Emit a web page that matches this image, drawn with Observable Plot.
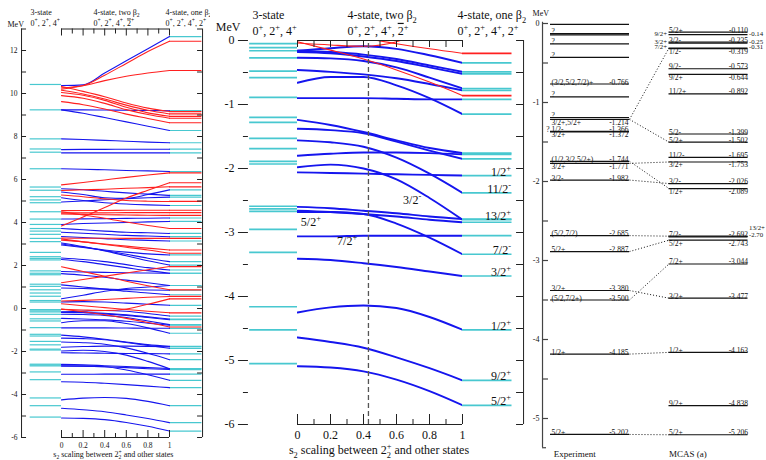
<!DOCTYPE html>
<html>
<head>
<meta charset="utf-8">
<title>Coupled-channel spectra versus s2 scaling</title>
<script src="https://cdn.jsdelivr.net/npm/d3@7"></script>
<script src="https://cdn.jsdelivr.net/npm/@observablehq/plot@0.6"></script>
<style>
  html, body { margin: 0; padding: 0; background: #fff; }
  #fig { position: relative; width: 766px; height: 460px; overflow: hidden; background: #fff; }
  #fig svg { position: absolute; top: 0; max-width: none; }
</style>
</head>
<body>
<div id="fig"></div>
<script>
// ---------- state energies (MeV) sampled at s2 = 0, 0.2, ..., 1 ----------
const sGrid = [0, 0.2, 0.4, 0.6, 0.8, 1];

const blueCurves = [
  // resonant region
  [10.37, 10.40, 10.95, 11.52, 12.08, 12.65],
  [9.24, 9.24, 9.23, 9.22, 9.21, 9.20],
  [9.24, 9.08, 8.88, 8.68, 8.48, 8.28],
  [7.89, 7.86, 7.82, 7.78, 7.74, 7.71],
  [7.39, 7.40, 7.40, 7.41, 7.41, 7.41],
  [7.24, 7.24, 7.24, 7.24, 7.24, 7.24],
  [6.50, 6.48, 6.45, 6.42, 6.40, 6.37],
  [5.57, 5.52, 5.45, 5.38, 5.32, 5.26],
  [5.42, 5.30, 5.15, 5.12, 5.30, 5.52],
  [5.15, 5.02, 4.92, 4.86, 4.82, 4.79],
  [4.95, 5.00, 5.06, 5.11, 5.15, 5.18],
  [4.16, 4.17, 4.18, 4.19, 4.20, 4.21],
  [3.91, 3.95, 3.98, 4.00, 4.03, 4.05],
  [3.72, 3.66, 3.60, 3.55, 3.52, 3.49],
  [3.55, 3.50, 3.45, 3.40, 3.37, 3.34],
  [3.35, 3.30, 3.25, 3.20, 3.17, 3.14],
  [3.00, 2.86, 2.70, 2.52, 2.34, 2.18],
  [3.05, 2.88, 2.68, 2.45, 2.22, 2.02],
  [2.95, 2.84, 2.72, 2.62, 2.54, 2.49],
  [2.35, 2.28, 2.18, 2.04, 1.90, 1.79],
  [2.28, 2.18, 2.04, 1.90, 1.76, 1.64],
  [1.72, 1.70, 1.68, 1.66, 1.65, 1.64],
  [1.62, 1.55, 1.45, 1.32, 1.20, 1.07],
  [1.10, 1.00, 0.90, 0.80, 0.72, 0.64],
  [0.95, 0.93, 0.90, 0.88, 0.86, 0.85],
  [0.45, 0.62, 0.80, 0.93, 1.00, 1.07],
  [0.30, 0.32, 0.30, 0.25, 0.20, 0.15],
  // bound region
  [-0.16, -0.12, -0.09, -0.13, -0.23, -0.35],
  [-0.16, -0.18, -0.22, -0.29, -0.39, -0.49],
  [-0.18, -0.20, -0.25, -0.32, -0.42, -0.52],
  [-0.27, -0.28, -0.32, -0.42, -0.58, -0.75],
  [-0.46, -0.49, -0.53, -0.59, -0.68, -0.78],
  [-0.66, -0.57, -0.57, -0.70, -0.90, -1.15],
  [-0.90, -0.90, -0.90, -0.91, -0.92, -0.92],
  [-1.24, -1.32, -1.43, -1.56, -1.68, -1.76],
  [-1.38, -1.40, -1.45, -1.58, -1.72, -1.85],
  [-1.56, -1.59, -1.66, -1.83, -2.08, -2.38],
  [-1.80, -1.77, -1.75, -1.75, -1.76, -1.78],
  [-1.98, -1.94, -2.00, -2.17, -2.46, -2.80],
  [-2.06, -2.07, -2.08, -2.09, -2.10, -2.11],
  [-2.60, -2.62, -2.66, -2.70, -2.75, -2.79],
  [-2.66, -2.68, -2.71, -2.75, -2.80, -2.84],
  [-2.68, -2.68, -2.71, -2.86, -3.08, -3.34],
  [-3.06, -3.06, -3.05, -3.05, -3.05, -3.05],
  [-3.41, -3.43, -3.48, -3.54, -3.61, -3.68],
  [-4.25, -4.17, -4.14, -4.18, -4.32, -4.52],
  [-4.64, -4.71, -4.80, -4.95, -5.12, -5.31],
  [-5.09, -5.11, -5.17, -5.30, -5.48, -5.70]
];

const redCurves = [
  [10.26, 10.37, 10.85, 11.40, 11.95, 12.43],
  [10.20, 10.36, 10.60, 10.80, 10.95, 11.07],
  [10.33, 10.10, 9.85, 9.56, 9.32, 9.16],
  [10.15, 9.98, 9.74, 9.46, 9.22, 9.05],
  [10.05, 9.92, 9.68, 9.36, 9.10, 8.94],
  [9.90, 9.78, 9.54, 9.25, 9.02, 8.85],
  [9.62, 9.48, 9.28, 9.04, 8.84, 8.64],
  [5.75, 5.86, 5.98, 6.10, 6.21, 6.31],
  [3.84, 4.26, 4.70, 5.14, 5.50, 5.85],
  [5.49, 5.52, 5.55, 5.59, 5.62, 5.66],
  [5.28, 5.20, 5.10, 5.02, 4.99, 4.98],
  [4.45, 4.45, 4.45, 4.46, 4.46, 4.46],
  [4.40, 4.38, 4.36, 4.35, 4.34, 4.33],
  [4.50, 4.35, 4.20, 4.02, 3.86, 3.72],
  [4.55, 4.56, 4.56, 4.57, 4.57, 4.57],
  [3.24, 3.10, 2.98, 2.85, 2.72, 2.57],
  [3.18, 3.10, 3.00, 2.90, 2.81, 2.72],
  [3.28, 3.27, 3.27, 3.26, 3.26, 3.26],
  [1.94, 1.72, 1.50, 1.27, 1.06, 0.87],
  [1.20, 1.35, 1.50, 1.65, 1.80, 1.95],
  [0.35, 0.38, 0.42, 0.47, 0.52, 0.56],
  [0.22, 0.13, 0.04, -0.05, -0.13, -0.20],
  [-0.04, -0.07, -0.09, -0.02, 0.20, 0.45],
  [-0.02, -0.15, -0.29, -0.46, -0.65, -0.86]
];

// 3-state (0+, 2+, 4+) spectrum
const threeStateLevels = [
  10.42, 9.24, 7.89, 7.42, 7.27, 6.50, 5.65, 5.50, 5.20, 5.05, 4.92, 4.50, 4.16,
  3.91, 3.72, 3.60, 3.45, 3.26, 3.11, 2.61, 2.41, 2.33, 2.26, 1.75, 1.64, 1.57,
  1.13, 1.03, 0.87, 0.72, 0.57, 0.37, 0.30,
  -0.05, -0.11, -0.16, -0.27, -0.48, -0.58, -0.89, -1.20, -1.28, -1.53, -1.69,
  -1.89, -1.93, -2.59, -2.63, -2.67, -2.95, -3.31, -4.16, -4.52, -5.05
];

const sDashed = 0.43;

// spin-parity labels of the one-beta2 bound states
const spinRightE = [-2.11, -2.38, -2.80, -3.34, -3.68, -4.52, -5.31, -5.70];
const spinRightText = ["1/2^+", "11/2^-", "13/2^+", "7/2^-", "3/2^+", "1/2^+", "9/2^+", "5/2^+"];
const spinInsideText = ["3/2^-", "5/2^+", "7/2^+"];
const spinInsideS = [0.64, 0.02, 0.24];
const spinInsideE = [-2.50, -2.84, -3.13];

// ---------- experiment vs MCAS (a) ----------
const expEnergy = [-0.01, -0.127, -0.143, -0.257, -0.43, -0.766, -0.93, -1.19, -1.214, -1.366, -1.372,
  -1.744, -1.771, -1.982, -2.685, -2.887, -3.380, -3.500, -4.185, -5.202];
const expSpin = ["", "?", "", "?", "?", "(3/2,5/2,7/2)+", "?", "?", "3/2+,5/2+", "1/2-", "3/2+",
  "(1/2,3/2,5/2+)", "3/2+", "3/2-", "(5/2,7/2)", "5/2+", "3/2+", "(5/2,7/2+)", "1/2+", "5/2+"];
const expLabelBelow = [-1.214, -1.372, -1.771];
const expQueryPrefix = [-1.366];

const mcasEnergy = [-0.110, -0.235, -0.319, -0.573, -0.644, -0.892, -1.399, -1.502, -1.695, -1.753,
  -2.026, -2.089, -2.692, -2.743, -3.044, -3.477, -4.163, -4.838, -5.206];
const mcasSpin = ["5/2+", "3/2-", "1/2-", "9/2-", "9/2+", "11/2+", "5/2-", "5/2+", "11/2-", "3/2+",
  "3/2-", "1/2+", "7/2-", "5/2+", "7/2+", "3/2+", "1/2+", "9/2+", "5/2+"];
const mcasLabelBelow = [-0.319, -0.644, -1.753, -2.089, -2.743];
const mcasSideEnergy = [-0.14, -0.25, -0.31];
const mcasSideSpin = ["9/2+", "3/2+", "7/2+"];
const mcasStackEnergy = [-2.70];
const mcasStackSpin = ["13/2+"];

const expToMcas = [
  [-1.214, -0.31], [-1.214, -1.502], [-1.771, -1.753], [-1.744, -2.089], [-1.982, -2.026],
  [-2.685, -2.692], [-2.887, -2.743], [-3.380, -3.477], [-3.500, -3.044], [-4.185, -4.163],
  [-5.202, -5.206]
];

// ---------- styling ----------
const BLUE = "#1515ee", RED = "#ff2020", CYAN = "#48c8d0", INK = "#222";
const SERIF = "Liberation Serif, Times New Roman, serif";
const LV_L = -0.29, LV_R = 1.30;       // extent of the side level bars, in s2 units
const sTicks = d3.range(0, 11).map(i => i / 10);
const isMajorS = s => Math.round(s * 10) % 2 === 0;
const sLabel = s => String(+s.toFixed(1));

function curveRows(curves, tag) {
  return curves.flatMap((vals, k) => vals.map((E, i) => ({id: tag + k, s: sGrid[i], E})));
}
const blueRows = curveRows(blueCurves, "b");
const redRows = curveRows(redCurves, "r");
const blueEnds = blueCurves.map(v => v[v.length - 1]);
const redEnds = redCurves.map(v => v[v.length - 1]);

// turn ^x, _x and ~x markup into super/subscript and overlined tspans
function enrich(svg) {
  d3.select(svg).selectAll("text").each(function () {
    const el = this;
    if (el.querySelector("tspan")) return;
    const src = el.textContent;
    if (!/[\^_~]/.test(src)) return;
    el.textContent = "";
    const re = /([\^_])(\{[^}]*\}|[^\s])|~([^\s])|([^\^_~]+)/g;
    let shift = 0, prev = null, m;
    while ((m = re.exec(src))) {
      const ts = document.createElementNS("http://www.w3.org/2000/svg", "tspan");
      let target = 0, scale = 1;
      if (m[1]) {
        ts.textContent = m[2].replace(/^\{|\}$/g, "");
        scale = 0.7;
        target = m[1] === "^" ? -0.42 : 0.28;
        ts.setAttribute("font-size", "70%");
        if (prev === "_" && m[1] === "^") ts.setAttribute("dx", "-0.5em");
        prev = m[1];
      } else if (m[3]) {
        ts.textContent = m[3];
        ts.setAttribute("style", "text-decoration: overline");
        prev = null;
      } else {
        ts.textContent = m[4];
        prev = null;
      }
      const dy = (target - shift) / scale;
      if (Math.abs(dy) > 1e-6) ts.setAttribute("dy", dy.toFixed(3) + "em");
      shift = target;
      el.appendChild(ts);
    }
  });
  return svg;
}

const txt = (data, opts) => Plot.text(data, {fontFamily: SERIF, fill: "#111", ...opts});

// ---------- full spectrum panel ----------
const p1 = {xL: -0.37, xR: 1.306, eB: -6, eT: 13, pxS: 108, pxE: 21.5};
const eTicks1 = d3.range(-6, 14);
const head1 = [
  {s: -0.287, up: 17, t: "3-state"}, {s: -0.287, up: 6, t: "0^+, 2^+, 4^+"},
  {s: 0.296, up: 17, t: "4-state, two β_2"}, {s: 0.296, up: 6, t: "0^+, 2^+, 4^+, ~2^+"},
  {s: 0.963, up: 17, t: "4-state, one β_2"}, {s: 0.963, up: 6, t: "0^+, 2^+, 4^+, 2^+"},
  {s: -0.5, up: 4.5, t: "MeV"}
];

const svg1 = Plot.plot({
  width: 210, height: 460,
  marginLeft: 61, marginRight: 41, marginTop: 50, marginBottom: 23,
  x: {domain: [0, 1], axis: null},
  y: {domain: [-6, 12], axis: null},
  style: {background: "none", overflow: "hidden", fontFamily: SERIF},
  marks: [
    Plot.ruleY(threeStateLevels, {y: d => d, x1: () => LV_L, x2: () => 0, stroke: CYAN, strokeWidth: 1.2}),
    Plot.ruleY(blueEnds, {y: d => d, x1: () => 1, x2: () => LV_R, stroke: CYAN, strokeWidth: 1.2}),
    Plot.ruleY(redEnds, {y: d => d, x1: () => 1, x2: () => LV_R, stroke: RED, strokeWidth: 1.2}),
    Plot.line(blueRows, {x: "s", y: "E", z: "id", stroke: BLUE, strokeWidth: 1.1, curve: "monotone-x"}),
    Plot.line(redRows, {x: "s", y: "E", z: "id", stroke: RED, strokeWidth: 1.1, curve: "monotone-x"}),
    Plot.ruleX([p1.xL, p1.xR], {x: d => d, y1: () => p1.eB, y2: () => p1.eT, stroke: INK}),
    Plot.ruleY(eTicks1, {y: d => d, x1: () => p1.xL, x2: () => p1.xL + 5 / p1.pxS, stroke: INK}),
    Plot.ruleY(eTicks1, {y: d => d, x1: () => p1.xR, x2: () => p1.xR - 5 / p1.pxS, stroke: INK}),
    Plot.ruleY([p1.eT, p1.eB], {y: d => d, x1: () => 0, x2: () => 1, stroke: INK}),
    Plot.ruleX(sTicks, {x: d => d, y1: () => p1.eT, y2: d => p1.eT - (isMajorS(d) ? 7 : 5) / p1.pxE, stroke: INK}),
    Plot.ruleX(sTicks, {x: d => d, y1: () => p1.eB, y2: d => p1.eB + (isMajorS(d) ? 7 : 4) / p1.pxE, stroke: INK}),
    txt(eTicks1.filter(e => e % 2 === 0), {x: () => p1.xL, y: d => d, dx: -4, textAnchor: "end", text: d => String(d), fontSize: 7.5}),
    txt(sTicks.filter(isMajorS), {x: d => d, y: () => p1.eB, dy: 8, text: sLabel, fontSize: 7.5}),
    txt(["s_2 scaling between 2_2^+ and other states"], {x: () => 0.48, y: () => p1.eB, dy: 17, text: d => d, fontSize: 8}),
    txt(head1, {x: "s", y: d => p1.eT + d.up / p1.pxE, text: "t", textAnchor: "start", fontSize: 8})
  ]
});

// ---------- bound-state panel ----------
const p2 = {xT: -0.358, xR: 1.370, eB: -6, eT: 0, pxS: 165, pxE: 64};
const eTicks2 = d3.range(0, 13).map(i => -i / 2);
const isInt = e => Math.abs(e - Math.round(e)) < 1e-9;
const head2 = [
  {s: -0.273, up: 25, t: "3-state"}, {s: -0.273, up: 9.5, t: "0^+, 2^+, 4^+"},
  {s: 0.303, up: 25, t: "4-state, two β_2"}, {s: 0.303, up: 9.5, t: "0^+, 2^+, 4^+, ~2^+"},
  {s: 0.97, up: 25, t: "4-state, one β_2"}, {s: 0.97, up: 9.5, t: "0^+, 2^+, 4^+, 2^+"}
];
const boundLevels = threeStateLevels.filter(e => e <= 0);
const spinRight = spinRightE.map((E, i) => ({E, t: spinRightText[i]}));
const spinInside = spinInsideText.map((t, i) => ({t, s: spinInsideS[i], E: spinInsideE[i]}));

const svg2 = Plot.plot({
  width: 320, height: 460,
  marginLeft: 87, marginRight: 68, marginTop: 40, marginBottom: 36,
  x: {domain: [0, 1], axis: null},
  y: {domain: [-6, 0], axis: null},
  style: {background: "none", overflow: "hidden", fontFamily: SERIF},
  marks: [
    Plot.ruleY(boundLevels, {y: d => d, x1: () => LV_L, x2: () => 0, stroke: CYAN, strokeWidth: 1.7}),
    Plot.ruleY(blueEnds.filter(e => e <= 0), {y: d => d, x1: () => 1, x2: () => LV_R, stroke: CYAN, strokeWidth: 1.7}),
    Plot.ruleY(redEnds.filter(e => e <= 0), {y: d => d, x1: () => 1, x2: () => LV_R, stroke: RED, strokeWidth: 1.7}),
    Plot.line(blueRows, {x: "s", y: "E", z: "id", stroke: BLUE, strokeWidth: 1.9, curve: "monotone-x", clip: true}),
    Plot.line(redRows, {x: "s", y: "E", z: "id", stroke: RED, strokeWidth: 1.1, curve: "monotone-x", clip: true}),
    Plot.ruleX([sDashed], {x: d => d, y1: () => p2.eB, y2: () => p2.eT, stroke: "#555", strokeWidth: 1.3, strokeDasharray: "5,3"}),
    Plot.ruleY(eTicks2, {y: d => d, x1: d => isInt(d) ? p2.xT : p2.xT + 5 / p2.pxS, x2: () => p2.xT + 10 / p2.pxS, stroke: INK}),
    Plot.ruleX([p2.xR], {x: d => d, y1: () => p2.eB, y2: () => p2.eT, stroke: INK}),
    Plot.ruleY(eTicks2, {y: d => d, x1: () => p2.xR, x2: () => p2.xR - 7 / p2.pxS, stroke: INK}),
    Plot.ruleY([p2.eT, p2.eB], {y: d => d, x1: () => 0, x2: () => 1, stroke: INK}),
    Plot.ruleX(sTicks, {x: d => d, y1: () => p2.eT, y2: () => p2.eT - 7 / p2.pxE, stroke: INK}),
    Plot.ruleX(sTicks, {x: d => d, y1: () => p2.eB, y2: d => p2.eB + (isMajorS(d) ? 10 : 5) / p2.pxE, stroke: INK}),
    txt(eTicks2.filter(isInt), {x: () => p2.xT, y: d => d, dx: -4, textAnchor: "end", text: d => String(d), fontSize: 12}),
    txt(sTicks.filter(isMajorS), {x: d => d, y: () => p2.eB, dy: 11, text: sLabel, fontSize: 12}),
    txt(["s_2 scaling between 2_2^+ and other states"], {x: () => 0.494, y: () => p2.eB, dy: 26, text: d => d, fontSize: 12}),
    txt(["MeV"], {x: () => p2.xT + 2 / p2.pxS, y: () => p2.eT + 13 / p2.pxE, text: d => d, textAnchor: "end", fontSize: 12}),
    txt(head2, {x: "s", y: d => p2.eT + d.up / p2.pxE, text: "t", textAnchor: "start", fontSize: 12}),
    txt(spinRight, {x: () => LV_R, y: "E", text: "t", textAnchor: "end", lineAnchor: "bottom", dx: -1, dy: 0, fontSize: 12}),
    txt(spinInside, {x: "s", y: "E", text: "t", textAnchor: "start", fontSize: 12})
  ]
});

// ---------- experiment / MCAS panel ----------
const p3 = {xA: -0.101, px: 79, eTop: 0.015, eBot: -5.37, m1: 1.5, m2: 2.5};
const eTicks3 = d3.range(0, 11).map(i => -i / 2);
const expRows = expEnergy.map((E, i) => ({
  E, spin: expSpin[i], below: expLabelBelow.includes(E),
  value: expSpin[i] && expSpin[i] !== "?" ? E.toFixed(3) : ""
}));
const mcasRows = mcasEnergy.map((E, i) => ({E, spin: mcasSpin[i], below: mcasLabelBelow.includes(E), value: E.toFixed(3)}));
const sideRows = mcasSideEnergy.map((E, i) => ({E, spin: mcasSideSpin[i], value: E.toFixed(2)}));
const stackRows = mcasStackEnergy.map((E, i) => ({E, spin: mcasStackSpin[i], value: E.toFixed(2)}));
const levelFont = {fontSize: 7.5};
const sideFont = {fontSize: 6.8};

const svg3 = Plot.plot({
  width: 236, height: 460,
  marginLeft: 20, marginRight: 137, marginTop: 23, marginBottom: 42,
  x: {domain: [0, 1], axis: null},
  y: {domain: [-5, 0], axis: null},
  style: {background: "none", overflow: "hidden", fontFamily: SERIF},
  marks: [
    Plot.ruleY(expEnergy, {y: d => d, x1: () => 0, x2: () => 1, stroke: "#111", strokeWidth: 1.2}),
    Plot.ruleY(mcasEnergy.concat(mcasSideEnergy, mcasStackEnergy), {y: d => d, x1: () => p3.m1, x2: () => p3.m2, stroke: "#111", strokeWidth: 1.2}),
    Plot.link(expToMcas, {x1: () => 1, y1: d => d[0], x2: () => p3.m1, y2: d => d[1], stroke: "#111", strokeWidth: 1, strokeDasharray: "1,2"}),
    // experiment labels
    txt(expRows.filter(r => r.spin && !r.below), {x: () => 0, y: "E", text: "spin", textAnchor: "start", lineAnchor: "bottom", dx: 1, dy: 0.5, ...levelFont}),
    txt(expRows.filter(r => r.spin && r.below), {x: () => 0, y: "E", text: "spin", textAnchor: "start", lineAnchor: "top", dx: 1, dy: 0, ...levelFont}),
    txt(expRows.filter(r => r.value && !r.below), {x: () => 1, y: "E", text: "value", textAnchor: "end", lineAnchor: "bottom", dx: -1, dy: 0.5, ...levelFont}),
    txt(expRows.filter(r => r.value && r.below), {x: () => 1, y: "E", text: "value", textAnchor: "end", lineAnchor: "top", dx: -1, dy: 0, ...levelFont}),
    txt(expQueryPrefix, {x: () => 0, y: d => d, text: () => "?", textAnchor: "end", lineAnchor: "bottom", dx: -1, dy: 0.5, ...levelFont}),
    // MCAS labels
    txt(mcasRows.filter(r => !r.below), {x: () => p3.m1, y: "E", text: "spin", textAnchor: "start", lineAnchor: "bottom", dx: 0, dy: 0.5, ...levelFont}),
    txt(mcasRows.filter(r => r.below), {x: () => p3.m1, y: "E", text: "spin", textAnchor: "start", lineAnchor: "top", dx: 0, dy: 0, ...levelFont}),
    txt(mcasRows.filter(r => !r.below), {x: () => p3.m2, y: "E", text: "value", textAnchor: "end", lineAnchor: "bottom", dx: 0, dy: 0.5, ...levelFont}),
    txt(mcasRows.filter(r => r.below), {x: () => p3.m2, y: "E", text: "value", textAnchor: "end", lineAnchor: "top", dx: 0, dy: 0, ...levelFont}),
    txt(sideRows, {x: () => p3.m1, y: "E", text: "spin", textAnchor: "end", dx: -2, dy: -1, ...sideFont}),
    txt(sideRows, {x: () => p3.m2, y: "E", text: "value", textAnchor: "start", dx: 1, dy: -1, ...sideFont}),
    txt(stackRows, {x: () => p3.m2, y: "E", text: "spin", textAnchor: "start", dx: 1, dy: -9, ...sideFont}),
    txt(stackRows, {x: () => p3.m2, y: "E", text: "value", textAnchor: "start", dx: 1, dy: -2, ...sideFont}),
    // axis
    Plot.ruleX([p3.xA], {x: d => d, y1: () => p3.eBot, y2: () => p3.eTop, stroke: "#444", strokeWidth: 1.2}),
    Plot.ruleY(eTicks3, {y: d => d, x1: () => p3.xA, x2: () => p3.xA + 6 / p3.px, stroke: "#444", strokeWidth: 1.2}),
    Plot.ruleY([p3.eBot], {y: d => d, x1: () => p3.xA, x2: () => p3.xA + 4 / p3.px, stroke: "#444", strokeWidth: 1.2}),
    txt(eTicks3.filter(isInt), {x: () => p3.xA, y: d => d, dx: -3, textAnchor: "end", text: d => String(d), fontSize: 8}),
    txt(["MeV"], {x: () => p3.xA - 10 / p3.px, y: () => 10 / p3.px, text: d => d, textAnchor: "start", fontSize: 8}),
    txt(["Experiment"], {x: () => 0.04, y: () => -5, dy: 36, text: d => d, textAnchor: "start", fontSize: 9}),
    txt(["MCAS (a)"], {x: () => p3.m1, y: () => -5, dy: 36, text: d => d, textAnchor: "start", fontSize: 9})
  ]
});

const fig = document.getElementById("fig");
[[svg1, 0], [svg2, 210], [svg3, 530]].forEach(([svg, left]) => {
  enrich(svg);
  svg.style.left = left + "px";
  fig.appendChild(svg);
});
</script>
</body>
</html>
